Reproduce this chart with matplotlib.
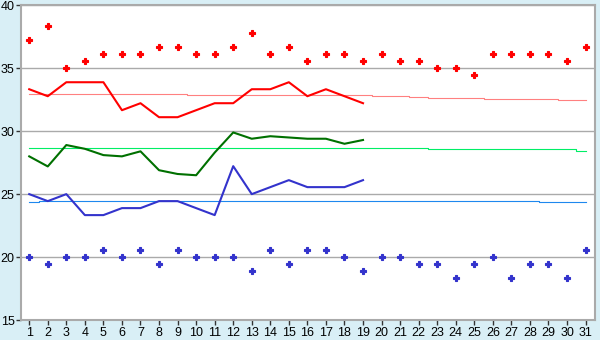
#!/usr/bin/env python3

import matplotlib
matplotlib.use("Agg")
import matplotlib.pyplot as plt
import numpy as np


def f_to_c(values):
    return [(v - 32) * 5 / 9 for v in values]


days = list(range(1, 32))

# record highs / lows for each day (read in F, shown in C)
record_high_f = [99, 101, 95, 96, 97, 97, 97, 98, 98, 97, 97, 98, 100, 97, 98, 96,
                 97, 97, 96, 97, 96, 96, 95, 95, 94, 97, 97, 97, 97, 96, 98]
record_low_f = [68, 67, 68, 68, 69, 68, 69, 67, 69, 68, 68, 68, 66, 69, 67, 69,
                69, 68, 66, 68, 68, 67, 67, 65, 67, 68, 65, 67, 67, 65, 69]

# observed values, days 1..19
obs_high_f = [92, 91, 93, 93, 93, 89, 90, 88, 88, 89, 90, 90, 92, 92, 93, 91, 92, 91, 90]
obs_low_f = [77, 76, 77, 74, 74, 75, 75, 76, 76, 75, 74, 81, 77, 78, 79, 78, 78, 78, 79]
obs_mean = [28.0, 27.2, 28.9, 28.6, 28.1, 28.0, 28.4, 26.9, 26.6, 26.5, 28.3, 29.9,
            29.4, 29.6, 29.5, 29.4, 29.4, 29.0, 29.3]

# normals
normal_high = [32.93] * 9 + [32.85] * 10 + [32.77] * 2 + [32.69] + [32.61] * 3 + \
              [32.53] * 4 + [32.45] * 2
normal_mean = [28.67] * 22 + [28.59] * 8 + [28.45]
normal_low = [24.35] + [24.43] * 27 + [24.35] * 3

bg = "#d9eff6"
plt.rcParams["font.family"] = ["Liberation Sans", "DejaVu Sans"]

fig = plt.figure(figsize=(6, 3.4), dpi=100, facecolor=bg)
ax = fig.add_axes([0.0345, 0.0588, 0.9575, 0.9256])
ax.set_facecolor("white")

ax.plot(days, normal_high, color="#ff8080", lw=0.8, drawstyle="steps-mid")
ax.plot(days, normal_mean, color="#00ee66", lw=0.8, drawstyle="steps-mid")
ax.plot(days, normal_low, color="#1e88ee", lw=0.8, drawstyle="steps-mid")

n = len(obs_high_f)
ax.plot(days[:n], f_to_c(obs_high_f), color="#ff0000", lw=1.5)
ax.plot(days[:n], obs_mean, color="#007000", lw=1.5)
ax.plot(days[:n], f_to_c(obs_low_f), color="#3333cc", lw=1.5)

ax.plot(days, f_to_c(record_high_f), "P", color="#ff0000", ms=4.2, mew=0.8)
ax.plot(days, f_to_c(record_low_f), "P", color="#3333cc", ms=4.2, mew=0.8)

ax.set_xlim(0.54, 31.52)
ax.set_ylim(15, 40)
ax.set_xticks(days)
ax.set_yticks([15, 20, 25, 30, 35, 40])
ax.yaxis.grid(True, color="#aaaaaa", lw=1.0)
ax.set_axisbelow(True)

for s in ax.spines.values():
    s.set_color("#aaaaaa")
    s.set_linewidth(1.5)

ax.tick_params(axis="both", direction="out", length=3.5, width=1, color="#333333",
               labelsize=9, labelcolor="black", pad=1.5)
ax.tick_params(axis="y", pad=1)

fig.savefig("out.png", dpi=100, facecolor=bg)
